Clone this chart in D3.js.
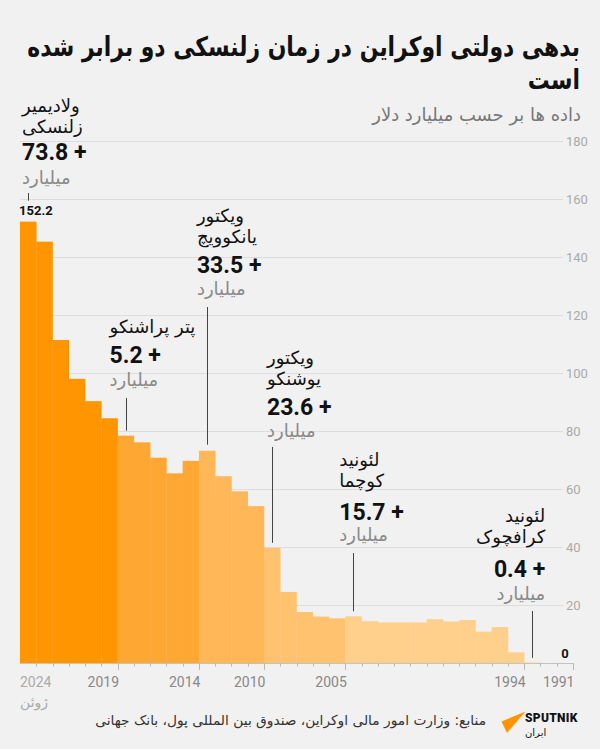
<!DOCTYPE html>
<html><head><meta charset="utf-8">
<script src="https://cdn.jsdelivr.net/npm/d3@7"></script>
<style>
html,body{margin:0;padding:0;background:#f1f1f1;}
svg{display:block;font-family:Roboto,"DejaVu Sans",sans-serif;}
</style></head>
<body>
<svg id="c" width="600" height="749"></svg>
<script>
// ---- data ----
const years = ["2024","2023","2022","2021","2020","2019","2018","2017","2016","2015","2014","2013","2012","2011","2010","2009","2008","2007","2006","2005","2004","2003","2002","2001","2000","1999","1998","1997","1996","1995","1994","1993","1992","1991"];
const debt = [152.2,145.3,111.4,98.0,90.3,84.4,78.4,76.1,70.8,65.4,69.7,73.2,64.4,59.2,54.1,39.7,24.5,17.6,16.0,15.4,16.1,14.4,14.0,14.0,14.0,15.1,14.3,14.8,10.8,12.4,3.7,0.4,0,0];
const eraFirst = [0,6,11,15,20,31];           // index of latest bar of each presidency
const eraNames = [["ولادیمیر","زلنسکی"],["پتر پراشنکو"],["ویکتور","یانکوویچ"],["ویکتور","یوشنکو"],["لئونید","کوچما"],["لئونید","کرافچوک"]];
const eraDeltas = ["73.8","5.2","33.5","23.6","15.7","0.4"];
const xTickYears = ["2019","2014","2010","2005","1994","1991"];
const yTicks = [20,40,60,80,100,120,140,160,180];
const title = ["بدهی دولتی اوکراین در زمان زلنسکی دو برابر شده","است"];
const subtitle = "داده ها بر حسب میلیارد دلار";
const unitText = "میلیارد";
const source = "منابع: وزارت امور مالی اوکراین، صندوق بین المللی پول، بانک جهانی";

// ---- layout ----
const svg = d3.select("#c");
const x = d3.scaleBand().domain(years).range([20, 573]).padding(0);
const y = d3.scaleLinear().domain([0,180]).range([663,141]);
const eraColors = ["#ff9500","#ffa733","#ffb757","#ffc26f","#ffcf8c","#ffe0b8"];
function eraOf(i){let e=0;eraFirst.forEach((f,k)=>{if(i>=f)e=k;});return e;}
function fit(sel, target){
  const fs = +sel.attr("font-size");
  const w = sel.node().getComputedTextLength();
  if (w > 0) sel.attr("font-size", (fs*target/w).toFixed(2));
  return +sel.attr("font-size");
}

svg.append("rect").attr("width",600).attr("height",749).attr("fill","#f1f1f1");

// title (horizontally condensed to match width)
const t1 = svg.append("text").attr("x",0).attr("y",0).attr("text-anchor","end")
  .attr("font-family","'DejaVu Sans',sans-serif").attr("font-weight","bold")
  .attr("font-size",27).attr("fill","#111").text(title[0]);
const sx = 553 / t1.node().getComputedTextLength();
t1.attr("transform",`translate(580,56) scale(${sx},1)`);
svg.append("text").attr("x",0).attr("y",0).attr("text-anchor","end")
  .attr("transform",`translate(580,89) scale(${sx},1)`)
  .attr("font-family","'DejaVu Sans',sans-serif").attr("font-weight","bold")
  .attr("font-size",27).attr("fill","#111").text(title[1]);
const st = svg.append("text").attr("x",581).attr("y",121).attr("text-anchor","end")
  .attr("font-family","'DejaVu Sans',sans-serif")
  .attr("font-size",16).attr("fill","#777").text(subtitle);
fit(st, 209);

// grid
const g = svg.append("g");
g.selectAll("line.grid").data(yTicks).enter().append("line")
  .attr("x1",20).attr("x2",563).attr("y1",d=>y(d)+0.5).attr("y2",d=>y(d)+0.5)
  .attr("stroke","#dddddd").attr("stroke-width",1);
g.selectAll("text.yt").data(yTicks).enter().append("text")
  .attr("x",566).attr("y",d=>y(d)).attr("dy","0.35em")
  .attr("font-size",13).attr("fill","#aaaaaa").text(d=>d);

// bars
g.selectAll("rect.bar").data(debt).enter().append("rect")
  .attr("x",(d,i)=>x(years[i])).attr("width",x.bandwidth()+0.3)
  .attr("y",d=>y(d)).attr("height",d=>y(0)-y(d))
  .attr("fill",(d,i)=>eraColors[eraOf(i)]);

// x axis
const bw = x.bandwidth();
svg.append("line").attr("x1",20).attr("x2",573).attr("y1",663.5).attr("y2",663.5).attr("stroke","#c4c4c4");
const boundaries = d3.range(1,years.length+1);
svg.selectAll("line.tk").data(boundaries).enter().append("line")
  .attr("x1",k=>Math.round(20+k*bw)+0.5).attr("x2",k=>Math.round(20+k*bw)+0.5)
  .attr("y1",663).attr("y2",k=>xTickYears.includes(years[k-1])?670:666.5)
  .attr("stroke","#b8b8b8");
svg.selectAll("text.xt").data(xTickYears).enter().append("text")
  .attr("x",d=>x(d)+bw+1.5).attr("y",687).attr("text-anchor","end")
  .attr("font-size",14).attr("fill","#888").text(d=>d);
svg.append("text").attr("x",20).attr("y",687).attr("font-size",14).attr("fill","#aaa").text(years[0]);
svg.append("text").attr("x",20).attr("y",707).attr("font-family","'DejaVu Sans',sans-serif")
  .attr("font-size",14).attr("fill","#aaa").text("ژوئن");

// value labels
svg.append("text").attr("x",x(years[0])-1).attr("y",215).attr("font-size",13).attr("font-weight","bold")
  .attr("fill","#111").text(debt[0].toFixed(1));
svg.append("text").attr("x",x(years[33])+bw/2).attr("y",658).attr("text-anchor","middle").attr("font-size",13).attr("font-weight","bold")
  .attr("fill","#111").text(String(debt[33]));

// annotations (layout only)
const annLayout = [
  {dx:2, anchor:"start", y0:112, lineGap:21, yNum:160, yUnit:184, yLine:193, off:21},
  {dx:-8, anchor:"start", y0:333, lineGap:21, yNum:363, yUnit:386, yLine:398, off:5},
  {dx:-2, anchor:"start", y0:222, lineGap:21, yNum:273, yUnit:295, yLine:307, off:6},
  {dx:3, anchor:"start", y0:364, lineGap:21, yNum:415, yUnit:437, yLine:447, off:5},
  {dx:-6, anchor:"start", y0:466, lineGap:21, yNum:520, yUnit:541, yLine:553, off:5},
  {dx:21, anchor:"end", y0:522, lineGap:21, yNum:577, yUnit:600, yLine:611, off:4}
];
eraFirst.forEach((bi,e)=>{
  const L = annLayout[e];
  const bx = x(years[bi]);
  const ax = bx + L.dx;
  const cx = bx + bw/2;
  const a = svg.append("g");
  eraNames[e].forEach((nm,j)=>{
    a.append("text").attr("x",ax).attr("y",L.y0+j*L.lineGap).attr("text-anchor",L.anchor)
      .attr("font-family","'DejaVu Sans',sans-serif").attr("font-size",18).attr("fill","#111").text(nm);
  });
  a.append("text").attr("x",ax).attr("y",L.yNum).attr("text-anchor",L.anchor)
    .attr("font-size",23).attr("font-weight","bold").attr("fill","#111").text(eraDeltas[e]+" +");
  a.append("text").attr("x",ax).attr("y",L.yUnit).attr("text-anchor",L.anchor)
    .attr("font-family","'DejaVu Sans',sans-serif").attr("font-size",18).attr("fill","#8a8a8a").text(unitText);
  a.append("line").attr("x1",Math.round(cx)+0.5).attr("x2",Math.round(cx)+0.5)
    .attr("y1",L.yLine).attr("y2",y(debt[bi])-L.off).attr("stroke","#444").attr("stroke-width",1);
});

// footer
const src = svg.append("text").attr("x",486).attr("y",725).attr("text-anchor","end")
  .attr("font-family","'DejaVu Sans',sans-serif").attr("font-size",14).attr("fill","#333").text(source);
fit(src, 391);
svg.append("path").attr("d","M501.5,721.5 L525.5,711.5 L507,733 Z").attr("fill","#ff9500");
svg.append("text").attr("x",525).attr("y",722).attr("font-size",12).attr("font-weight","900")
  .attr("fill","#111").attr("letter-spacing","0.3").text("SPUTNIK");
svg.append("text").attr("x",525).attr("y",736).attr("font-family","'DejaVu Sans',sans-serif")
  .attr("font-size",10).attr("fill","#111").text("ایران");
</script>
</body></html>
